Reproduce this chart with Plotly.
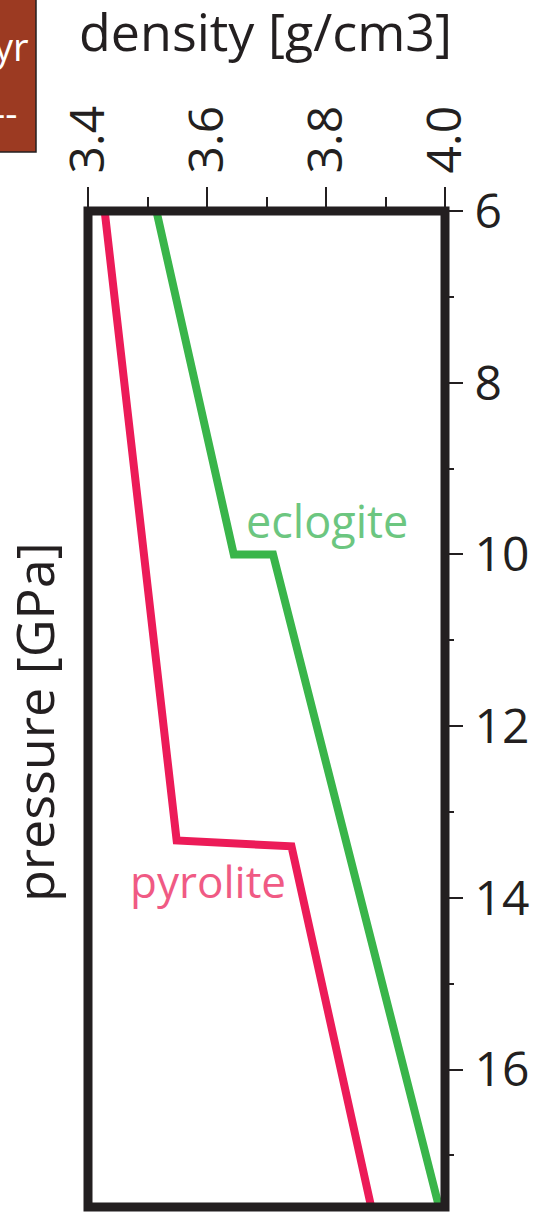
import plotly.graph_objects as go

# Density profiles (g/cm3) against pressure (GPa)
pyrolite_pressure = [6.0, 13.33, 13.40, 17.6]
pyrolite_density = [3.428, 3.549, 3.742, 3.876]

eclogite_pressure = [6.0, 10.0, 10.0, 17.6]
eclogite_density = [3.515, 3.645, 3.711, 3.990]

density_ticks = [3.4, 3.6, 3.8, 4.0]
density_tick_text = ["3.4", "3.6", "3.8", "4.0"]
density_minor = [3.5, 3.7, 3.9]
pressure_ticks = [6, 8, 10, 12, 14, 16]
pressure_minor = [7, 9, 11, 13, 15, 17]

INK = "#231F20"
RED = "#EC1B58"
GREEN = "#39B54A"
FONT = "Open Sans"

W, H = 550, 1217
L, R, T, B = 88, 105, 211, 10
PW, PH = W - L - R, H - T - B


def px_x(p):
    return (p - L) / PW


def px_y(p):
    return (H - B - p) / PH


fig = go.Figure()
fig.add_trace(go.Scatter(x=pyrolite_density, y=pyrolite_pressure, mode="lines",
                         line=dict(color=RED, width=8), hoverinfo="skip"))
fig.add_trace(go.Scatter(x=eclogite_density, y=eclogite_pressure, mode="lines",
                         line=dict(color=GREEN, width=8), hoverinfo="skip"))

fig.update_layout(
    width=W, height=H,
    margin=dict(l=L, r=R, t=T, b=B),
    paper_bgcolor="white", plot_bgcolor="white",
    showlegend=False,
    font=dict(family=FONT, color=INK),
    xaxis=dict(
        side="top", range=[3.4, 4.0], tickvals=density_ticks, ticktext=density_tick_text,
        tickangle=-90, ticks="outside", ticklen=23, tickwidth=2, tickcolor=INK,
        tickfont=dict(size=48, color=INK, family=FONT), ticklabelstandoff=4,
        minor=dict(tickvals=density_minor, ticks="outside", ticklen=13, tickwidth=2, tickcolor=INK),
        showgrid=False, zeroline=False, showline=False, fixedrange=True,
    ),
    yaxis=dict(
        side="right", range=[17.6, 6.0], tickvals=pressure_ticks,
        ticks="outside", ticklen=17, tickwidth=2, tickcolor=INK,
        tickfont=dict(size=48, color=INK, family=FONT), ticklabelstandoff=2,
        minor=dict(tickvals=pressure_minor, ticks="outside", ticklen=8, tickwidth=2, tickcolor=INK),
        showgrid=False, zeroline=False, showline=False, fixedrange=True,
    ),
)

# heavy frame around the plotting area
fig.add_shape(type="rect", xref="paper", yref="paper", x0=0, x1=1, y0=0, y1=1,
              line=dict(color=INK, width=9), layer="above")

# partially visible label box at the top left
fig.add_shape(type="rect", xref="paper", yref="paper",
              x0=px_x(-10), x1=px_x(36), y0=px_y(152), y1=px_y(-10),
              fillcolor="#9C3A22", line=dict(color=INK, width=1.5), layer="above")

annotations = [
    dict(text="density [g/cm3]", x=px_x(265), y=px_y(31), size=52, color=INK,
         xanchor="center", yanchor="middle", angle=0),
    dict(text="pressure [GPa]", x=px_x(33), y=px_y(722), size=52, color=INK,
         xanchor="center", yanchor="middle", angle=-90),
    dict(text="yr", x=px_x(31), y=px_y(46), size=38, color="white",
         xanchor="right", yanchor="middle", angle=0),
    dict(text="--", x=px_x(19), y=px_y(112), size=38, color="white",
         xanchor="right", yanchor="middle", angle=0),
]
for a in annotations:
    fig.add_annotation(text=a["text"], xref="paper", yref="paper", x=a["x"], y=a["y"],
                       xanchor=a["xanchor"], yanchor=a["yanchor"], textangle=a["angle"],
                       showarrow=False, font=dict(size=a["size"], color=a["color"], family=FONT))

fig.add_annotation(text="eclogite", x=3.801, y=9.6, xref="x", yref="y", showarrow=False,
                   font=dict(size=45, color="#6CC680", family=FONT))
fig.add_annotation(text="pyrolite", x=3.601, y=13.8, xref="x", yref="y", showarrow=False,
                   font=dict(size=44, color="#F05A84", family=FONT))

fig.write_html("out.html")
